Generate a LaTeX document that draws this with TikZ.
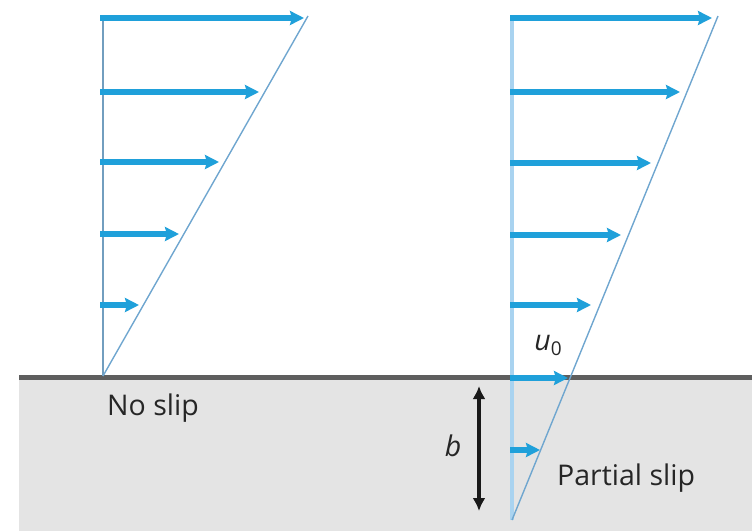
\documentclass[tikz,border=0pt]{standalone}
\usepackage{fontspec}
\setmainfont{Open Sans}
\usetikzlibrary{arrows.meta}
\definecolor{flow}{HTML}{1FA0DA}
\definecolor{prof}{HTML}{6FA6CF}
\definecolor{wallv}{HTML}{A9D3F0}
\definecolor{ground}{HTML}{E4E4E4}
\definecolor{gline}{HTML}{5E5E5E}
\tikzset{
  vel/.style={draw=flow, line width=5.5pt, -{Stealth[length=14pt,width=14pt,inset=2pt]}},
  diag/.style={draw=prof, line width=1.4pt},
  lbl/.style={inner sep=0pt, font=\fontsize{28.5}{32}\selectfont, text=black!85},
}
\begin{document}
\begin{tikzpicture}[x=1pt,y=-1pt]
\useasboundingbox (0,0) rectangle (752,531);
% ground
\fill[ground] (19,377) rectangle (752,531);
\coordinate (gl) at (19,377.5);
\coordinate (gr) at (752,377.5);
\draw[gline, line width=5pt] (gl) -- (gr);

% left profile (no slip)
\coordinate (Lb) at (103,376);
\coordinate (Lt) at (103,17);
\coordinate (Ld) at (308,16);
\draw[draw=prof!80!gray, line width=2.2pt] (Lb) -- (Lt);
\draw[diag] (Lb) -- (Ld);
\foreach \i/\y/\x in {1/18/304, 2/92/259, 3/162/219, 4/234/179, 5/305/139}{
  \coordinate (Ls\i) at (100,\y);
  \coordinate (Le\i) at (\x,\y);
  \draw[vel] (Ls\i) -- (Le\i);
}

% right profile (partial slip)
\coordinate (Rb) at (512,520);
\coordinate (Rt) at (512,16);
\coordinate (Rd) at (718,16);
\draw[draw=wallv, line width=4.5pt] (Rb) -- (Rt);
\draw[diag] (Rb) -- (Rd);
\foreach \i/\y/\x in {1/18/712, 2/92/680, 3/163/651, 4/235/621, 5/305/591, 6/378/568, 7/450/540}{
  \coordinate (Rs\i) at (510,\y);
  \coordinate (Re\i) at (\x,\y);
  \draw[vel] (Rs\i) -- (Re\i);
}

% slip length b
\coordinate (bt) at (479,386);
\coordinate (bb) at (479,511);
\draw[black!90, line width=3.5pt, {Latex[length=13pt,width=13pt]}-{Latex[length=13pt,width=13pt]}] (bt) -- (bb);

% labels
\node[lbl, anchor=west] (noslip) at (107,408) {No slip};
\node[lbl, anchor=west] (partial) at (557,478) {Partial slip};
\node[lbl] (b) at (453,446) {\itshape b};
\node[lbl] (u0) at (548,345) {\itshape u\fontsize{19}{20}\selectfont\upshape\raisebox{-5pt}{0}};
\end{tikzpicture}
\end{document}
